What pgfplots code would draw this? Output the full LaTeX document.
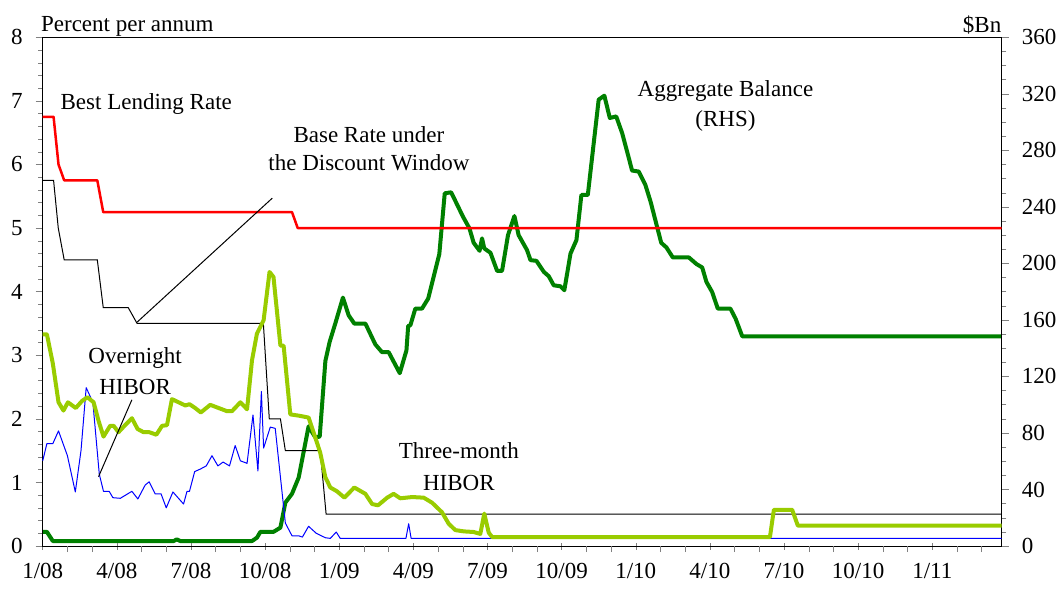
\documentclass[border=0pt]{standalone}
\usepackage{fontspec}
\setmainfont{Liberation Serif}
\usepackage{pgfplots}
\pgfplotsset{compat=1.18}

\definecolor{blrred}{RGB}{255,0,0}
\definecolor{hiborgreen}{RGB}{153,204,0}
\definecolor{aggreen}{RGB}{0,128,0}

\begin{document}
\fontsize{11.5}{13.8}\selectfont
\begin{tikzpicture}
\useasboundingbox (-21.35pt,-21.5pt) rectangle (508.15pt,273pt);

% right-hand axis: aggregate balance ($Bn)
\begin{axis}[
  at={(0,0)}, anchor=south west,
  scale only axis, width=479.5pt, height=254.35pt,
  xmin=0, xmax=38.81, ymin=0, ymax=360,
  axis x line=none, axis y line*=right,
  ytick={0,40,...,360}, minor y tick num=3,
  ytick align=outside, major tick length=3.5pt, minor tick length=2.3pt,
  yticklabel style={xshift=2.5pt},
  /pgf/number format/assume math mode=true,
  clip=false,
]
  % Aggregate Balance (RHS)
  \addplot[aggreen, line width=2pt, line join=round] coordinates {
    (0,10) (0.17,10) (0.41,3.5) (5.3,3.5) (5.43,4.7) (5.57,3.5) (8.47,3.5)
    (8.67,5.9) (8.81,10) (9.34,10) (9.62,13) (9.82,30.7) (10.09,37) (10.36,48.5)
    (10.76,84.7) (11.03,76.9) (11.21,77.4) (11.44,131) (11.61,144.3) (11.84,157.4)
    (12.15,175.8) (12.38,163.3) (12.61,157.4) (13.06,157.4) (13.46,142.7)
    (13.73,137.2) (14.0,137.2) (14.45,122.3) (14.72,138.4) (14.79,155.7)
    (14.88,156.2) (15.08,168) (15.35,168) (15.6,175.1) (15.82,190.4) (16.05,206.5)
    (16.27,249.6) (16.53,250.3) (17.01,233) (17.27,224.8) (17.44,214.6)
    (17.68,208.9) (17.78,217.7) (17.87,210.6) (18.12,207.5) (18.39,194.7)
    (18.59,194.7) (18.83,220) (19.09,233.5) (19.26,220) (19.6,209.4) (19.74,202.3)
    (19.98,201.8) (20.28,194) (20.48,190.9) (20.68,184.5) (20.95,183.8) (21.11,181)
    (21.36,207) (21.6,216.5) (21.8,248.4) (22.06,248.4) (22.5,315.9) (22.73,318.7)
    (22.95,302.9) (23.21,304) (23.45,292.2) (23.72,274.5) (23.85,265.7)
    (24.12,265) (24.39,255.5) (24.6,243.7) (25.03,214.6) (25.24,211.3)
    (25.5,204.2) (26.15,204.2) (26.46,199.5) (26.69,197.1) (26.86,186.9)
    (27.09,179.8) (27.32,168) (27.83,168) (28.04,160.9) (28.31,148.4) (38.81,148.4)
  };
\end{axis}

% left-hand axis: rates (percent per annum)
\begin{axis}[
  at={(0,0)}, anchor=south west,
  scale only axis, width=479.5pt, height=254.35pt,
  xmin=0, xmax=38.81, ymin=0, ymax=8,
  tick pos=left,
  xtick={0,3,...,36},
  xticklabels={1/08,4/08,7/08,10/08,1/09,4/09,7/09,10/09,1/10,4/10,7/10,10/10,1/11},
  xtick align=center, ytick align=outside,
  major tick length=3.5pt, minor tick length=2.3pt,
  extra x ticks={1,2,4,5,7,8,10,11,13,14,16,17,19,20,22,23,25,26,28,29,31,32,34,35,37,38},
  extra x tick labels={},
  extra x tick style={xtick align=outside, major tick length=3pt},
  ytick={0,1,...,8}, minor y tick num=4,
  xticklabel style={yshift=-3pt},
  yticklabel style={xshift=-2.5pt},
  /pgf/number format/assume math mode=true,
  clip=false,
]
  % Overnight HIBOR
  \addplot[blue, line width=0.5pt, line join=round] coordinates {
    (0,1.34) (0.17,1.61) (0.41,1.61) (0.64,1.81) (1.0,1.42) (1.32,0.85) (1.55,1.5)
    (1.76,2.49) (2.03,2.26) (2.29,1.13) (2.46,0.86) (2.69,0.86) (2.84,0.76)
    (3.14,0.75) (3.61,0.86) (3.85,0.74) (4.15,0.96) (4.31,1.01) (4.55,0.82)
    (4.79,0.82) (5.0,0.6) (5.27,0.85) (5.7,0.66) (5.84,0.86) (5.94,0.86)
    (6.15,1.17) (6.38,1.21) (6.62,1.26) (6.85,1.42) (7.09,1.26) (7.3,1.32)
    (7.56,1.26) (7.79,1.58) (8.0,1.34) (8.27,1.3) (8.51,2.06) (8.71,1.18)
    (8.85,2.43) (8.94,1.54) (9.21,1.87) (9.41,1.85) (9.82,0.36) (10.09,0.16)
    (10.36,0.16) (10.51,0.14) (10.76,0.31) (11.07,0.2) (11.44,0.13) (11.64,0.12)
    (11.88,0.22) (12.04,0.12) (14.7,0.12) (14.81,0.35) (14.91,0.12) (38.81,0.12)
  };
  % Base Rate under the Discount Window
  \addplot[black, line width=0.5pt] coordinates {
    (0,5.75) (0.44,5.75) (0.63,5.0) (0.87,4.5) (2.21,4.5) (2.45,3.75) (3.46,3.75)
    (3.82,3.5) (8.93,3.5) (9.17,2.0) (9.62,2.0) (9.82,1.5) (11.23,1.5) (11.47,0.5)
    (38.81,0.5)
  };
  % Best Lending Rate
  \addplot[blrred, line width=1.25pt, line join=round] coordinates {
    (0,6.75) (0.44,6.75) (0.64,6.0) (0.87,5.75) (2.21,5.75) (2.45,5.25)
    (10.09,5.25) (10.32,5.0) (38.81,5.0)
  };
  % Three-month HIBOR
  \addplot[hiborgreen, line width=2pt, line join=round] coordinates {
    (0,3.33) (0.17,3.33) (0.41,2.87) (0.64,2.26) (0.84,2.13) (1.02,2.26) (1.34,2.17)
    (1.59,2.28) (1.81,2.34) (2.06,2.26) (2.26,1.97) (2.46,1.72) (2.73,1.89)
    (2.87,1.89) (3.07,1.79) (3.31,1.89) (3.61,2.01) (3.84,1.84) (4.08,1.79)
    (4.31,1.79) (4.6,1.75) (4.83,1.89) (5.03,1.9) (5.23,2.31) (5.5,2.26)
    (5.77,2.21) (5.94,2.23) (6.17,2.17) (6.4,2.1) (6.78,2.22) (7.12,2.17)
    (7.46,2.12) (7.66,2.12) (8.0,2.26) (8.27,2.15) (8.47,2.92) (8.67,3.34)
    (8.94,3.55) (9.18,4.31) (9.34,4.23) (9.62,3.15) (9.75,3.15) (10.02,2.07)
    (10.36,2.05) (10.76,2.02) (10.96,1.79) (11.23,1.47) (11.44,1.08) (11.64,0.92)
    (11.91,0.86) (12.21,0.76) (12.61,0.92) (13.06,0.82) (13.33,0.66) (13.57,0.64)
    (13.94,0.76) (14.2,0.82) (14.47,0.75) (14.95,0.77) (15.42,0.76) (15.76,0.68)
    (16.16,0.53) (16.43,0.35) (16.7,0.25) (17.04,0.23) (17.44,0.22) (17.71,0.19)
    (17.87,0.51) (18.05,0.21) (18.19,0.14) (18.52,0.14) (29.43,0.14) (29.59,0.57)
    (30.33,0.57) (30.56,0.32) (38.81,0.32)
  };

  % annotations
  \draw[black, line width=0.5pt] (axis cs:9.29,5.47) -- (axis cs:3.82,3.52);
  \draw[black, line width=0.5pt] (axis cs:3.61,2.30) -- (axis cs:2.26,1.09);

  \node[anchor=base west, inner sep=0pt] at (axis cs:0.71,6.86) {Best Lending Rate};
  \node[anchor=base, inner sep=0pt] at (axis cs:13.2,6.35) {Base Rate under};
  \node[anchor=base, inner sep=0pt] at (axis cs:13.2,5.91) {the Discount Window};
  \node[anchor=base, inner sep=0pt] at (axis cs:27.63,7.075) {Aggregate Balance};
  \node[anchor=base, inner sep=0pt] at (axis cs:27.63,6.6) {(RHS)};
  \node[anchor=base, inner sep=0pt] at (axis cs:3.74,2.87) {Overnight};
  \node[anchor=base, inner sep=0pt] at (axis cs:3.74,2.385) {HIBOR};
  \node[anchor=base, inner sep=0pt] at (axis cs:16.84,1.37) {Three-month};
  \node[anchor=base, inner sep=0pt] at (axis cs:16.84,0.88) {HIBOR};

  \node[anchor=base west, inner sep=0pt] at ([yshift=3pt,xshift=-1pt]rel axis cs:0,1) {Percent per annum};
  \node[anchor=base east, inner sep=0pt] at ([yshift=2.5pt]rel axis cs:1,1) {\$Bn};
\end{axis}
\end{tikzpicture}
\end{document}
